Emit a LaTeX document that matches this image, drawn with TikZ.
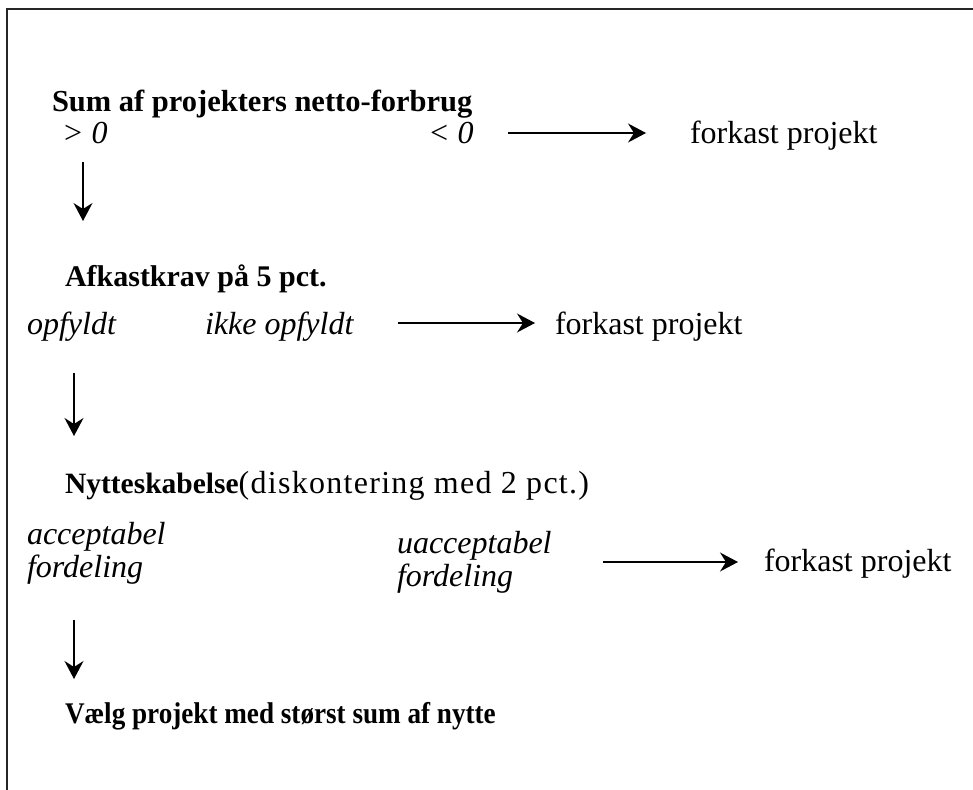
\documentclass[tikz,border=0pt]{standalone}
\usepackage{fontspec}
\setmainfont{Liberation Serif}
\usetikzlibrary{arrows.meta}
\tikzset{
  txt/.style={anchor=base west, inner sep=0pt, outer sep=0pt, font=\fontsize{32}{34}\selectfont},
  hd/.style={txt, font=\fontsize{30}{34}\selectfont\bfseries},
  it/.style={txt, font=\fontsize{32}{34}\selectfont\itshape},
  arr/.style={line width=1.3pt, -{Stealth[length=18pt,width=19pt,inset=6pt]}},
  frame/.style={line width=2.4pt, draw=black!85}
}
\begin{document}
\begin{tikzpicture}[x=1pt,y=-1pt]
\useasboundingbox (0,0) rectangle (973,789);
\draw[frame] (7,800) -- (7,9) -- (980,9);
% level 1
\node[hd, font=\fontsize{30.5}{34}\selectfont\bfseries] (h1) at (52,111) {Sum af projekters netto-forbrug};
\node[it] (gt0) at (62,143) {> 0};
\node[it] (lt0) at (428,143) {< 0};
\node[txt] (f1) at (690,143) {forkast projekt};
\coordinate (a1s) at (508,133);
\coordinate (a1e) at (646,133);
\draw[arr] (a1s) -- (a1e);
\coordinate (d1s) at (83,162);
\coordinate (d1e) at (83,221);
\draw[arr] (d1s) -- (d1e);
% level 2
\node[hd] (h2) at (65,286) {Afkastkrav på 5 pct.};
\node[it] (op) at (27,334) {opfyldt};
\node[it] (iop) at (205,334) {ikke opfyldt};
\node[txt] (f2) at (555,334) {forkast projekt};
\coordinate (a2s) at (398,323);
\coordinate (a2e) at (535,323);
\draw[arr] (a2s) -- (a2e);
\coordinate (d2s) at (74,373);
\coordinate (d2e) at (74,436);
\draw[arr] (d2s) -- (d2e);
% level 3
\node[txt] (h3) at (65,493) {\bfseries\fontsize{29.5}{34}\selectfont Nytteskabelse\mdseries\fontsize{32}{34}\selectfont\addfontfeatures{LetterSpace=4}(diskontering med 2 pct.)};
\node[it] (acc1) at (27,544) {acceptabel};
\node[it] (acc2) at (27,577) {fordeling};
\node[it] (uacc1) at (397,553) {uacceptabel};
\node[it] (uacc2) at (397,586) {fordeling};
\node[txt] (f3) at (764,571) {forkast projekt};
\coordinate (a3s) at (603,562);
\coordinate (a3e) at (738,562);
\draw[arr] (a3s) -- (a3e);
\coordinate (d3s) at (74,620);
\coordinate (d3e) at (74,679);
\draw[arr] (d3s) -- (d3e);
% level 4
\node[hd] (h4) at (65,723) {\scalebox{0.905}[1]{Vælg projekt med størst sum af nytte}};
\end{tikzpicture}
\end{document}
